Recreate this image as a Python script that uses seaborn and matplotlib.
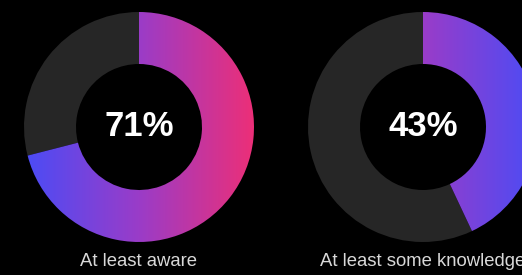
import numpy as np
import matplotlib
matplotlib.use("Agg")
import matplotlib.pyplot as plt
from matplotlib.colors import LinearSegmentedColormap
import seaborn as sns

labels = ["At least aware", "At least some knowledge"]
values = [71, 43]
# gradient runs left->right; second donut is mirrored
grad_dirs = [1, -1]

sns.set_style("dark", {"axes.facecolor": "black", "figure.facecolor": "black"})
plt.rcParams["font.family"] = ["Liberation Sans", "DejaVu Sans"]

cmap = LinearSegmentedColormap.from_list("ring", ["#4a4cf6", "#9a3cc8", "#ec2f78"])
track = "#262626"

fig = plt.figure(figsize=(5.22, 2.75), dpi=100)
ax = fig.add_axes([0, 0, 1, 1])
ax.set_facecolor("black")

W, H = 522, 275
R, ring = 115, 52
centers = [(139, H - 127), (423, H - 127)]

for (cx, cy), v, lab, d in zip(centers, values, labels, grad_dirs):
    wedges, _ = ax.pie([v, 100 - v], startangle=90, counterclock=False,
                       radius=R, center=(cx, cy), colors=["none", track],
                       wedgeprops=dict(width=ring, linewidth=0))
    grad = np.linspace(0, 1, 256)[::d].reshape(1, -1)
    im = ax.imshow(grad, cmap=cmap, aspect="auto",
                   extent=[cx - R, cx + R, cy - R, cy + R], zorder=2)
    im.set_clip_path(wedges[0])
    ax.text(cx, cy, f"{v}%", color="white", fontsize=25, fontweight="bold",
            ha="center", va="center", zorder=3)
    ax.text(cx, H - 262, lab, color="#d9d9d9", fontsize=13.3,
            ha="center", va="center", zorder=3)

ax.set_xlim(0, W)
ax.set_ylim(0, H)
ax.set_aspect("auto")
ax.axis("off")

fig.savefig("out.png", dpi=100, facecolor="black")
